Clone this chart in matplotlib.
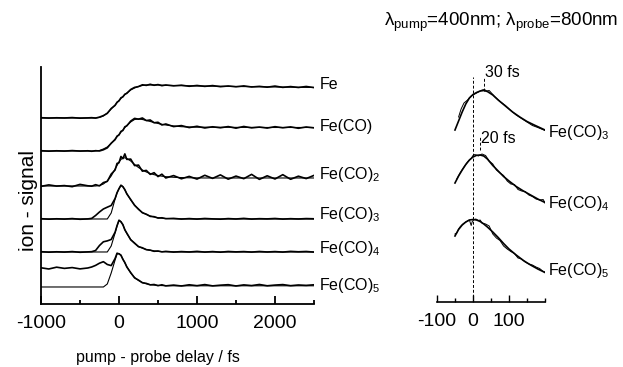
import matplotlib
matplotlib.use("Agg")
import matplotlib.pyplot as plt

plt.rcParams["font.family"] = ["Liberation Sans", "DejaVu Sans"]
plt.rcParams["mathtext.fontset"] = "custom"
plt.rcParams["mathtext.rm"] = "Liberation Sans"
plt.rcParams["mathtext.it"] = "Liberation Sans:italic"
plt.rcParams["mathtext.bf"] = "Liberation Sans:bold"
plt.rcParams["axes.unicode_minus"] = False

# ---- left panel: long delay scans (signal heights, arbitrary units) ----
delay = [-1000, -900, -800, -700, -600, -500, -400, -350, -300, -250, -200, -150, -100, -50, -25,
         0, 25, 50, 75, 100, 150, 200, 250, 300, 350, 400, 450, 500, 550, 600,
         700, 800, 900, 1000, 1100, 1200, 1300, 1400, 1500, 1600, 1700, 1800, 1900, 2000,
         2100, 2200, 2300, 2400, 2500]

fe_fit = [186, 186, 186, 186, 186, 186, 186, 186, 186, 186.5, 188, 191, 195, 199, 201.3,
          203.5, 205.5, 207.5, 209.3, 211, 214, 216, 217.5, 218.5, 219, 219, 219, 219, 218.8, 218.6,
          218.5, 218.3, 218.2, 218.0, 217.9, 217.8, 217.7, 217.6, 217.5, 217.4, 217.3, 217.2, 217.1, 217.0,
          216.9, 216.8, 216.7, 216.6, 216.5]
fe_data = [186.3, 185.9, 186.2, 186.0, 186.4, 185.8, 186.1, 186.3, 185.9, 186.9, 188.4, 190.6, 195.5, 198.6, 201.8,
           203.1, 206.2, 207.1, 209.8, 210.6, 214.5, 216.6, 217.4, 219.2, 218.6, 219.7, 218.7, 219.4, 218.3, 219.0,
           218.1, 218.8, 217.7, 218.5, 217.6, 218.4, 217.3, 218.0, 217.2, 218.1, 217.0, 217.6, 216.8, 217.9,
           216.6, 217.4, 216.5, 217.5, 216.4]

feco1_fit = [153, 153, 153, 153, 153, 153, 153, 153, 153, 153.5, 155, 157, 160.5, 165, 167.2,
             169.5, 171.8, 174, 176.3, 178.5, 182, 184.5, 185, 184.5, 183.5, 182.5, 181.5, 180.5, 179.7, 179,
             178, 177.3, 177, 176.8, 176.8, 176.7, 176.7, 176.7, 176.6, 176.6, 176.6, 176.6, 176.5, 176.5,
             176.5, 176.5, 176.5, 176.5, 176.5]
feco1_data = [153.3, 152.8, 153.2, 152.9, 153.4, 152.9, 153.2, 152.7, 153.3, 153.0, 154.2, 156.1, 160.8, 164.3, 167.9,
              169.0, 172.6, 173.5, 177.2, 178.1, 182.9, 185.6, 184.8, 186.0, 183.4, 184.0, 181.2, 181.7, 179.0, 180.0,
              177.4, 178.4, 176.4, 177.7, 176.0, 177.2, 176.2, 177.4, 175.8, 177.5, 176.1, 176.9, 175.9, 177.3,
              176.2, 177.1, 175.7, 177.0, 176.1]

feco2_fit = [118, 118, 118, 118, 118, 118, 118, 118, 118, 118.5, 120, 123, 128, 135, 138.5,
             142, 144.5, 146, 146.2, 145.5, 143, 139.5, 136.5, 134, 132, 130.5, 129.3, 128.5, 127.8, 127.3,
             126.7, 126.4, 126.2, 126.1, 126, 126, 126, 126, 126, 126, 126, 126, 126, 126,
             126, 126, 126, 126, 126]
feco2_data = [117.6, 119.1, 117.9, 118.4, 117.3, 119.6, 118.2, 117.8, 119.3, 118.1, 121.4, 122.6, 129.9, 134.0, 140.6,
              141.2, 147.5, 145.3, 150.1, 144.6, 144.9, 138.4, 138.9, 132.8, 133.6, 129.6, 131.3, 127.4, 129.8, 126.0,
              128.4, 125.2, 127.6, 124.9, 128.7, 125.6, 129.1, 124.8, 127.9, 125.3, 129.6, 124.6, 128.2, 125.0,
              129.3, 124.7, 127.8, 125.4, 128.6]

feco3_fit = [85, 85, 85, 85, 85, 85, 85, 85, 85, 85, 85, 85, 91, 105, 111,
             115.5, 118.5, 117.5, 114, 110.5, 104, 99, 94.5, 91.5, 89.5, 88, 87, 86.3, 85.8, 85.5,
             85.2, 85.1, 85, 85, 85, 85, 85, 85, 85, 85, 85, 85, 85, 85,
             85, 85, 85, 85, 85]
feco3_data = [85.3, 84.8, 85.2, 84.9, 85.4, 84.7, 85.1, 85.6, 88.5, 92, 95, 96.8, 98.5, 105.5, 111.3,
              115.2, 118.8, 117.2, 114.4, 110.1, 104.5, 98.6, 94.9, 91.2, 89.8, 87.6, 87.3, 85.9, 86.2, 85.3,
              85.6, 84.9, 85.4, 84.9, 85.5, 85.1, 84.8, 85.4, 85.0, 85.6, 84.9, 85.3, 85.1, 85.5,
              84.9, 85.3, 85.0, 85.4, 85.2]

feco4_fit = [52, 52, 52, 52, 52, 52, 52, 52, 52, 52, 52, 52, 58, 71, 78,
             83.5, 82.5, 79, 74.5, 70.5, 64.5, 60.5, 57.5, 55.8, 54.5, 53.6, 53, 52.6, 52.4, 52.2,
             52.1, 52, 52, 52, 52, 52, 52, 52, 52, 52, 52, 52, 52, 52,
             52, 52, 52, 52, 52]
feco4_data = [52.3, 51.8, 52.2, 51.9, 52.4, 51.7, 52.1, 52.3, 53.5, 58.5, 62.2, 63.1, 64.5, 71.8, 78.3,
              83.8, 82.1, 79.4, 74.1, 70.9, 64.2, 60.9, 57.3, 56.2, 54.3, 53.9, 52.7, 53.0, 52.1, 52.6,
              51.9, 52.4, 52.0, 52.6, 51.9, 52.4, 51.8, 52.5, 52.1, 52.4, 51.9, 52.5, 52.0, 52.4,
              51.9, 52.6, 52.2, 52.5, 51.9]

feco5_fit = [17, 17, 17, 17, 17, 17, 17, 17, 17, 17, 17, 20, 31, 44, 50,
             50.5, 48.5, 45, 41, 37.5, 31, 26.5, 23.5, 21.5, 20.2, 19.4, 18.9, 18.6, 18.4, 18.3,
             18.2, 18.2, 18.2, 18.2, 18.2, 18.2, 18.2, 18.2, 18.2, 18.2, 18.2, 18.2, 18.2, 18.2,
             18.2, 18.2, 18.2, 18.2, 18.2]
feco5_data = [36.2, 35.0, 36.8, 35.6, 36.4, 35.1, 36.0, 37.0, 38.6, 40.8, 42.3, 39.5, 38.4, 45.5, 50.8,
              50.1, 48.9, 44.6, 41.5, 37.0, 31.4, 26.1, 23.9, 21.2, 20.6, 19.1, 19.5, 18.3, 19.2, 18.1,
              18.9, 18.0, 19.2, 18.3, 19.4, 18.1, 18.8, 19.3, 18.0, 19.1, 18.4, 19.5, 18.2, 18.9,
              19.4, 18.3, 19.0, 18.6, 19.2]

left_labels = ["Fe", "Fe(CO)", "Fe(CO)$_2$", "Fe(CO)$_3$", "Fe(CO)$_4$", "Fe(CO)$_5$"]
left_label_y = [219, 177, 129, 89, 55, 18]

# ---- right panel: zoom around time zero ----
r3_fit_t = [-50, -40, -30, -20, -10, 0, 10, 20, 30, 40, 55, 70, 90, 110, 130, 150, 170, 185, 200]
r3_fit = [172, 181, 190, 198, 204, 207.5, 209.5, 211, 211.5, 210.5, 207, 202, 196, 190, 185, 180.5, 177, 174.5, 172]
r3_dat_t = [-40, -33, -25, -15, -5, 5, 15, 25, 32, 38, 45, 50, 60, 75, 90, 105, 120, 135, 150, 165, 180, 190, 200]
r3_dat = [185, 193, 199, 202, 206, 208, 210, 212, 212.5, 211, 211.5, 209.5, 205.5, 200.5, 196.5, 191.5, 187,
          183.5, 180, 176.5, 174.5, 173, 171.5]

r4_fit_t = [-50, -40, -30, -20, -10, 0, 10, 20, 30, 40, 55, 70, 85, 100, 120, 140, 160, 180, 200]
r4_fit = [119, 126, 132, 137.5, 142, 145, 146.7, 147, 146, 143, 136.5, 131, 125.5, 121, 115.5, 111, 107, 103, 99.5]
r4_dat_t = [-45, -35, -25, -15, -5, 0, 5, 15, 25, 35, 45, 55, 65, 75, 85, 95, 105, 115, 125, 135, 145, 155,
            165, 175, 185, 195, 200]
r4_dat = [123, 129.5, 135, 140, 143.5, 146.5, 147.5, 146, 148, 146.5, 141, 138, 132, 129, 126.5, 121, 118,
          117.5, 112.5, 111, 110.5, 107, 105.5, 103, 102, 102.5, 99]

r5_fit_t = [-50, -40, -30, -20, -10, 0, 10, 20, 30, 40, 55, 70, 85, 100, 120, 140, 160, 180, 200]
r5_fit = [66, 72.5, 77, 80, 82, 82.5, 82, 80.5, 78, 75, 70, 64.5, 58.5, 53, 47, 41.5, 37, 33, 29.5]
r5_dat_t = [-50, -45, -40, -35, -28, -22, -15, -10, -5, -2, 3, 8, 15, 20, 25, 35, 45, 55, 65, 75, 85, 95,
            105, 115, 125, 135, 145, 155, 165, 175, 185, 195, 200]
r5_dat = [68, 69, 73, 75.5, 78, 79.5, 81, 82, 76.5, 80.5, 82.5, 83, 81.5, 82, 79, 78, 76, 68, 64, 61.5, 56,
          53, 50.5, 48.5, 44, 43, 40, 38, 37, 35, 33.5, 30.5, 30]

right_labels = ["Fe(CO)$_3$", "Fe(CO)$_4$", "Fe(CO)$_5$"]
right_label_y = [170, 99, 32]
peak_shift = [30, 20]
peak_mark_y = [(211, 224), (152, 165)]
peak_text_y = [230, 164]


fig = plt.figure(figsize=(6.23, 3.67), dpi=100)

ax = fig.add_axes([0.0658, 0.1717, 0.4382, 0.6458])
for fit, dat in [(fe_fit, fe_data), (feco1_fit, feco1_data), (feco2_fit, feco2_data),
                 (feco3_fit, feco3_data), (feco4_fit, feco4_data), (feco5_fit, feco5_data)]:
    ax.plot(delay, dat, color="black", lw=1.2)
    ax.plot(delay, fit, color="black", lw=0.8)
for lab, y in zip(left_labels, left_label_y):
    ax.text(2570, y, lab, fontsize=11.5, va="center", ha="left", clip_on=False)
ax.set_xlim(-1000, 2500)
ax.set_ylim(0, 237)
ax.set_xticks([-1000, 0, 1000, 2000])
ax.set_xticks([-500, 500, 1500, 2500], minor=True)
ax.set_yticks([])
ax.spines["top"].set_visible(False)
ax.spines["right"].set_visible(False)
ax.spines["left"].set_linewidth(1.3)
ax.spines["bottom"].set_linewidth(1.3)
ax.tick_params(axis="x", which="major", direction="in", length=6, width=1.3, labelsize=14, pad=8)
ax.tick_params(axis="x", which="minor", direction="in", length=3, width=1.3)

ax2 = fig.add_axes([0.7014, 0.1771, 0.1734, 0.6594])
for ft, f, dt, d in [(r3_fit_t, r3_fit, r3_dat_t, r3_dat), (r4_fit_t, r4_fit, r4_dat_t, r4_dat),
                     (r5_fit_t, r5_fit, r5_dat_t, r5_dat)]:
    ax2.plot(dt, d, color="black", lw=0.7)
    ax2.plot(ft, f, color="black", lw=1.2)
ax2.plot([0, 0], [0, 225], color="black", lw=0.7, ls=(0, (3, 2)))
for s, (y0, y1), ty in zip(peak_shift, peak_mark_y, peak_text_y):
    ax2.plot([s, s], [y0, y1], color="black", lw=0.7, ls=(0, (3, 2)))
    ax2.text(s + 2, ty, "%d fs" % s, fontsize=11.5, va="center", ha="left")
for lab, y in zip(right_labels, right_label_y):
    ax2.text(207, y, lab, fontsize=11.5, va="center", ha="left", clip_on=False)
ax2.set_xlim(-100, 200)
ax2.set_ylim(0, 242)
ax2.set_xticks([-100, 0, 100])
ax2.set_xticks([-50, 50, 150, 200], minor=True)
ax2.set_yticks([])
for side in ["top", "right", "left"]:
    ax2.spines[side].set_visible(False)
ax2.spines["bottom"].set_linewidth(1.2)
ax2.tick_params(axis="x", which="major", direction="in", length=5, width=1.0, labelsize=14, pad=8)
ax2.tick_params(axis="x", which="minor", direction="in", length=3, width=1.0)

fig.text(0.253, 0.025, "pump - probe delay / fs", fontsize=11.5, ha="center", va="center")
fig.text(0.045, 0.455, "ion - signal", fontsize=15, rotation=90, ha="center", va="center")
fig.text(0.804, 0.94, "λ$_{\\mathrm{pump}}$=400nm; λ$_{\\mathrm{probe}}$=800nm",
         fontsize=13.5, ha="center", va="center")

fig.savefig("out.png", dpi=100)
